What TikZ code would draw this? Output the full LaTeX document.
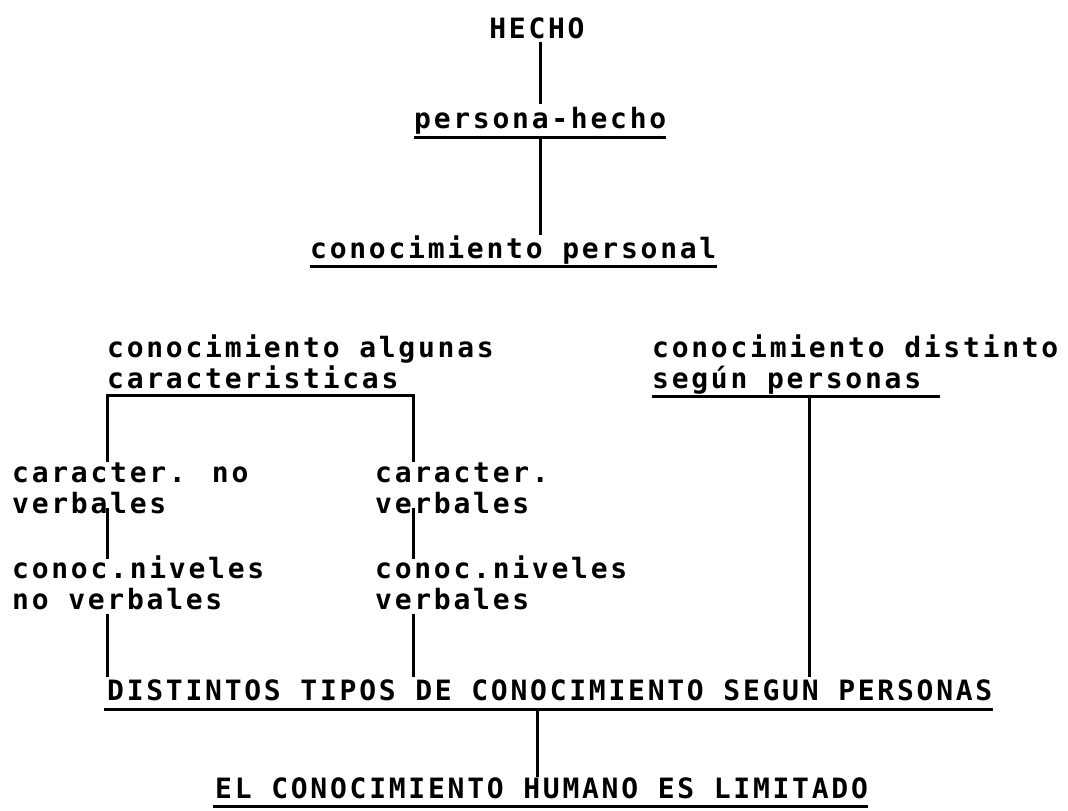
\documentclass[tikz,border=0pt]{standalone}
\usepackage{fontspec}
\newfontfamily\dm[LetterSpace=9.8,BoldFont={DejaVu Sans Mono Bold}]{DejaVu Sans Mono}
\begin{document}
\begin{tikzpicture}[x=1pt,y=-1pt,
  lab/.style={inner sep=0pt, font=\dm\bfseries\fontsize{28}{31}\selectfont, align=left, anchor=base west},
  conn/.style={line width=3pt},
  ul/.style={line width=3pt}]
\path[use as bounding box] (0,0) rectangle (1068,811);

% single-line nodes: baseline; two-line nodes: baseline of the last line
\node[lab, anchor=base] (hecho) at (537,38) {HECHO};
\node[lab] (ph) at (414,128) {persona-hecho};
\node[lab] (cp) at (310,258) {conocimiento personal};
\node[lab] (ca) at (107,388) {conocimiento algunas\\caracteristicas};
\node[lab] (cd) at (652,388) {conocimiento distinto\\según personas};
\node[lab] (cnv) at (12,513) {caracter. no\\verbales};
\node[lab] (cv) at (375,513) {caracter.\\verbales};
\node[lab] (cnn) at (12,609) {conoc.niveles\\no verbales};
\node[lab] (cnb) at (375,609) {conoc.niveles\\verbales};
\node[lab] (dt) at (107,700) {DISTINTOS TIPOS DE CONOCIMIENTO SEGUN PERSONAS};
\node[lab] (el) at (215,798) {EL CONOCIMIENTO HUMANO ES LIMITADO};

% underlines and junctions
\coordinate (phU) at (540,137);
\coordinate (cpU) at (523,266);
\coordinate (bl) at (107,395);
\coordinate (br) at (413,395);
\coordinate (cdU) at (809,396);
\coordinate (cdE) at (940,396);
\coordinate (dtU) at (537,709);
\coordinate (elU) at (537,806);
\draw[ul] (ph.west |- phU) -- (ph.east |- phU);
\draw[ul] (cp.west |- cpU) -- (cp.east |- cpU);
\draw[ul] (cd.west |- cdU) -- (cdE);
\draw[ul] ([xshift=-3pt]dt.west |- dtU) -- (dt.east |- dtU);
\draw[ul] ([xshift=-2pt]el.west |- elU) -- (el.east |- elU);

% connectors
\draw[conn] ([yshift=-3pt]phU |- hecho.south) -- ([yshift=3pt]phU |- ph.north);
\draw[conn] (phU) -- (phU |- cp.north);
\draw[conn] (bl |- cnv.north) -- (bl) -- (br) -- (br |- cv.north);
\draw[conn] ([yshift=6pt]bl |- cnv.south) -- ([yshift=-4pt]bl |- cnn.north);
\draw[conn] ([yshift=6pt]br |- cv.south) -- ([yshift=-4pt]br |- cnb.north);
\draw[conn] ([yshift=-4pt]bl |- cnn.south) -- ([yshift=2pt]bl |- dt.north);
\draw[conn] ([yshift=-4pt]br |- cnb.south) -- ([yshift=2pt]br |- dt.north);
\draw[conn] (cdU) -- ([yshift=2pt]cdU |- dt.north);
\draw[conn] (dtU) -- (dtU |- el.north);
\end{tikzpicture}
\end{document}
